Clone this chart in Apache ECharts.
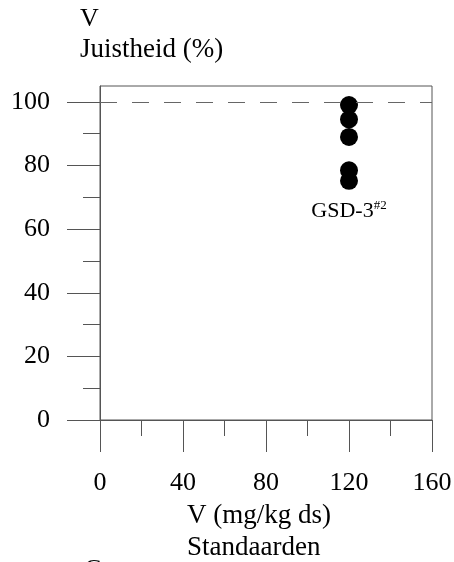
<!DOCTYPE html>
<html>
<head>
<meta charset="utf-8">
<script src="https://cdn.jsdelivr.net/npm/echarts@6/dist/echarts.min.js"></script>
<style>
  html, body { margin: 0; padding: 0; background: #fff; }
  #chart { width: 454px; height: 562px; }
</style>
</head>
<body>
<div id="chart"></div>
<script>
// Accuracy of V measurements for the standard reference material
const standardX = [120, 120, 120, 120, 120];
const accuracyY = [99.0, 94.5, 89.0, 78.5, 75.2];
const yMajorTicks = [0, 20, 40, 60, 80, 100];
const yMinorTicks = [10, 30, 50, 70, 90];
const xMajorTicks = [0, 40, 80, 120, 160];
const xMinorTicks = [20, 60, 100, 140];
const targetLine = 100;
const standardLabel = 'GSD-3';
const standardSup = '#2';

const FONT = 'Liberation Serif';
const AXIS_COLOR = '#555';

const points = standardX.map((x, i) => [x, accuracyY[i]]);

const chart = echarts.init(document.getElementById('chart'), null, { renderer: 'canvas' });

const baseAxis = {
  axisLine: { show: true, lineStyle: { color: AXIS_COLOR, width: 1 } },
  splitLine: { show: false }
};

chart.setOption({
  backgroundColor: '#fff',
  animation: false,
  grid: {
    left: 100, right: 22, top: 86, bottom: 142,
    outerBoundsMode: 'none', containLabel: false,
    show: true, borderColor: AXIS_COLOR, borderWidth: 1
  },
  xAxis: [
    Object.assign({}, baseAxis, {
      type: 'value', min: 0, max: 160, interval: 40,
      axisTick: { show: true, length: 32, lineStyle: { color: AXIS_COLOR }, customValues: xMajorTicks },
      axisLabel: { margin: 50, fontFamily: FONT, fontSize: 26, color: '#000', customValues: xMajorTicks }
    }),
    Object.assign({}, baseAxis, {
      type: 'value', min: 0, max: 160, position: 'bottom', offset: 0,
      axisLine: { show: false },
      axisTick: { show: true, length: 16, lineStyle: { color: AXIS_COLOR }, customValues: xMinorTicks },
      axisLabel: { show: false }
    })
  ],
  yAxis: [
    Object.assign({}, baseAxis, {
      type: 'value', min: 0, max: 105,
      axisTick: { show: true, length: 33, lineStyle: { color: AXIS_COLOR }, customValues: yMajorTicks },
      axisLabel: { margin: 50, fontFamily: FONT, fontSize: 26, color: '#000', customValues: yMajorTicks }
    }),
    Object.assign({}, baseAxis, {
      type: 'value', min: 0, max: 105, position: 'left', offset: 0,
      axisLine: { show: false },
      axisTick: { show: true, length: 17, lineStyle: { color: AXIS_COLOR }, customValues: yMinorTicks },
      axisLabel: { show: false }
    })
  ],
  graphic: [
    // y-axis title block, top left
    { type: 'text', left: 80, top: 6, style: { text: 'V', font: '26px "Liberation Serif"', fill: '#000' } },
    { type: 'text', left: 80, top: 36, style: { text: 'Juistheid (%)', font: '27px "Liberation Serif"', fill: '#000' } },
    // x-axis title block, left-aligned under the axis
    { type: 'text', left: 187, top: 502, style: { text: 'V (mg/kg ds)', font: '27px "Liberation Serif"', fill: '#000' } },
    { type: 'text', left: 187, top: 534, style: { text: 'Standaarden', font: '27px "Liberation Serif"', fill: '#000' } },
    { type: 'text', left: 84, top: 557, style: { text: 'C', font: '26px "Liberation Serif"', fill: '#000' } }
  ],
  series: [{
    type: 'scatter',
    xAxisIndex: 0, yAxisIndex: 0,
    data: points.map((p, i) => ({
      value: p,
      label: i === points.length - 1 ? {
        show: true, position: 'bottom', distance: 9,
        formatter: '{a|' + standardLabel + '}{b|' + standardSup + '}',
        rich: {
          a: { fontFamily: FONT, fontSize: 22, color: '#000', lineHeight: 24 },
          b: { fontFamily: FONT, fontSize: 13, color: '#000', lineHeight: 24, verticalAlign: 'top' }
        }
      } : { show: false }
    })),
    symbol: 'circle', symbolSize: 18,
    itemStyle: { color: '#000', opacity: 1 },
    markLine: {
      silent: true, symbol: 'none', label: { show: false },
      lineStyle: { color: '#666', width: 1, type: [17, 15] },
      data: [{ yAxis: targetLine }]
    }
  }]
});
</script>
</body>
</html>
